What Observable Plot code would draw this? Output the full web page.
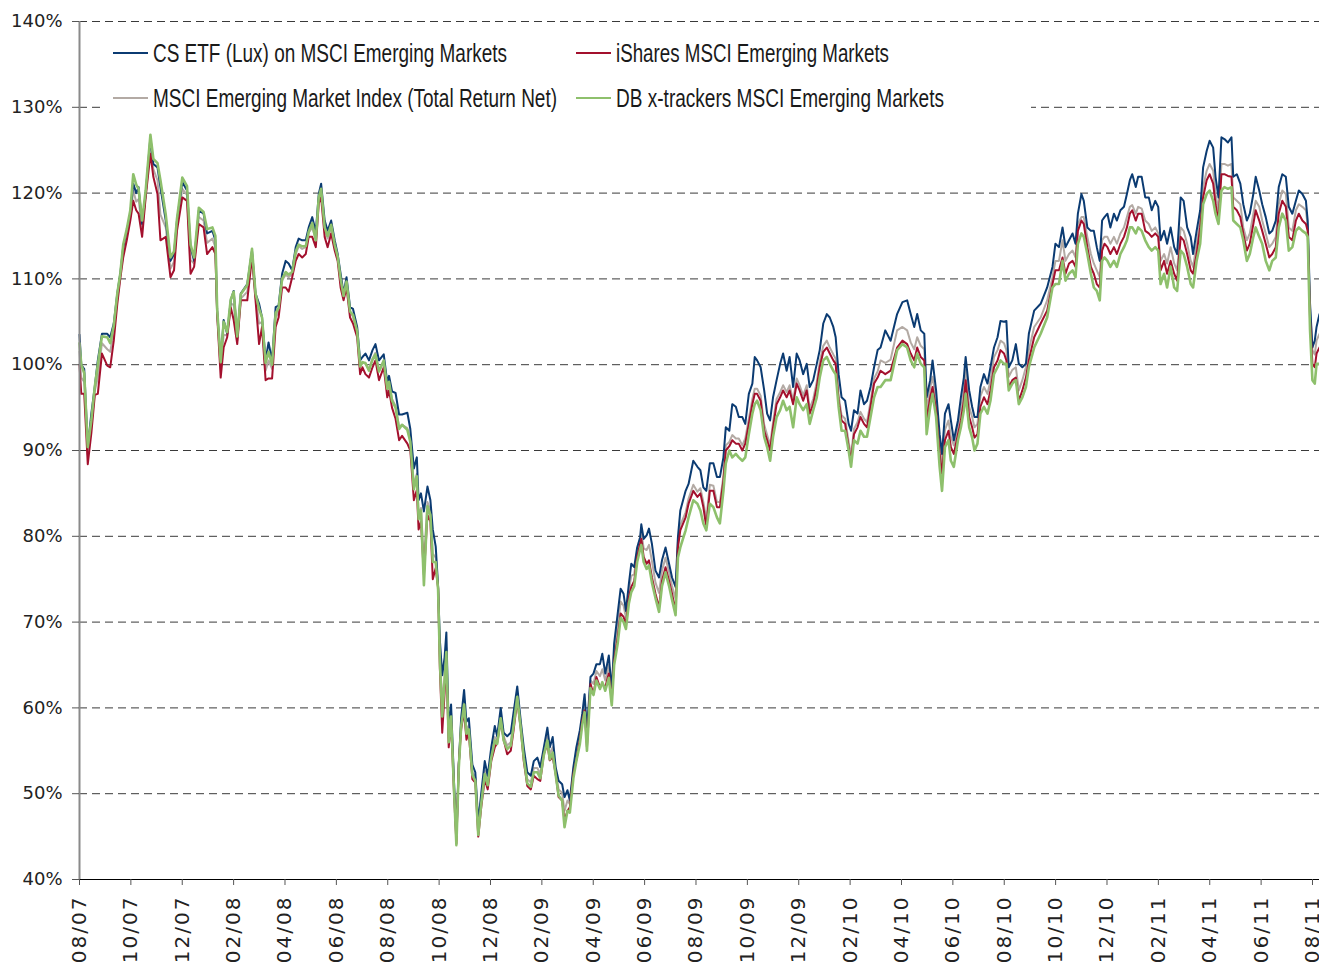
<!DOCTYPE html>
<html><head><meta charset="utf-8">
<script src="https://cdn.jsdelivr.net/npm/d3@7"></script>
<script src="https://cdn.jsdelivr.net/npm/@observablehq/plot@0.6"></script>
<style>
body{margin:0;background:#fff;}
#wrap{position:relative;width:1319px;height:966px;}
#wrap svg{position:absolute;left:0;top:0;}
#legend{position:absolute;left:103px;top:28px;width:928px;height:90px;background:#fff;z-index:2;
  font-family:"Liberation Sans",Arial,sans-serif;font-size:26px;color:#1a1a1a;}
.item{position:absolute;display:flex;align-items:center;height:32px;white-space:nowrap;}
.sw{display:inline-block;width:35px;height:2px;margin-right:5px;flex:none;}
.tx{display:inline-block;transform-origin:0 50%;}
g[aria-label="x-axis tick label"] text{letter-spacing:2px;}
</style></head><body><div id="wrap"><div id="legend"></div></div>
<script>
// x positions: weeks since 1 Aug 2007
const tickLabels = ["08/07","10/07","12/07","02/08","04/08","06/08","08/08","10/08","12/08","02/09","04/09","06/09","08/09","10/09","12/09","02/10","04/10","06/10","08/10","10/10","12/10","02/11","04/11","06/11","08/11"];
const yTicks = [40,50,60,70,80,90,100,110,120,130,140];
const seriesNames = ["CS ETF (Lux) on MSCI Emerging Markets","iShares MSCI Emerging Markets","MSCI Emerging Market Index (Total Return Net)","DB x-trackers MSCI Emerging Markets"];
const seriesColors = ["#0b3b72","#a3102d","#b3aaa4","#8ec06c"];

const weeks = [
0.0,0.3,0.8,1.4,2.0,2.6,3.1,3.8,4.7,5.2,5.8,6.4,6.9,7.4,8.0,8.6,9.1,9.6,10.0,10.6,11.2,12.0,12.5,13.2,13.7,14.6,15.4,16.0,16.5,17.4,18.2,18.8,19.4,20.2,21.0,21.6,22.5,23.0,23.3,23.9,24.4,25.0,25.6,26.1,26.7,
27.3,28.4,29.2,29.8,30.4,30.9,31.5,32.0,32.6,33.2,33.7,34.3,34.9,35.4,36.0,36.6,37.1,37.7,38.3,38.8,39.4,40.0,40.5,40.9,41.5,42.0,42.6,43.2,43.7,44.2,44.7,45.2,45.8,46.3,47.0,47.5,47.9,48.4,49.0,49.6,50.1,50.7,
51.5,52.1,52.4,52.9,53.5,54.1,54.6,55.5,56.0,56.6,57.1,57.4,57.8,58.3,58.9,59.4,59.8,60.3,60.7,61.0,61.4,61.8,62.1,62.5,62.9,63.4,63.8,64.2,64.6,65.1,65.5,65.9,66.5,67.0,67.5,68.0,68.6,69.1,69.7,70.3,70.7,71.3,71.8,72.4,73.0,73.5,74.1,74.7,75.2,75.8,76.4,76.9,77.5,
78.0,78.6,79.2,79.6,80.1,80.6,81.1,81.7,82.1,82.6,83.0,83.6,84.1,84.7,85.1,85.5,85.9,86.5,87.0,87.5,88.1,88.5,89.0,89.6,90.1,90.5,91.1,91.6,92.1,92.5,93.0,93.4,93.9,94.4,94.9,95.1,95.5,96.0,96.4,96.9,97.5,98.1,98.6,99.2,99.8,100.3,100.9,101.3,
101.7,102.6,103.1,103.9,104.6,105.1,105.6,106.1,106.7,107.3,107.9,108.4,109.0,109.4,110.0,110.5,111.1,111.6,112.2,112.7,113.3,113.9,114.3,114.7,115.3,115.9,116.4,116.9,117.4,118.0,118.6,119.1,119.7,120.2,120.8,121.4,121.9,122.5,123.1,123.6,124.2,124.8,125.3,125.9,126.5,127.0,127.6,128.0,128.5,129.0,129.6,130.2,130.6,131.1,131.7,132.2,132.8,133.3,133.9,134.5,135.1,
135.6,136.4,137.3,138.4,139.3,140.1,140.7,141.3,141.8,142.4,143.0,143.4,144.0,144.4,145.0,145.6,146.0,146.5,147.1,147.5,148.0,148.7,149.2,149.7,150.0,150.6,151.1,151.5,152.0,152.5,153.1,153.7,154.2,154.8,155.4,155.9,156.5,156.9,157.3,157.9,158.5,159.0,159.6,160.2,160.7,161.6,
162.7,163.8,164.7,165.2,165.8,166.4,166.9,167.5,168.1,168.6,169.0,169.6,170.0,170.6,171.2,171.7,172.2,172.7,173.1,173.5,174.0,174.5,175.1,175.6,176.2,176.8,177.3,177.8,178.2,178.8,179.2,179.8,180.4,181.0,181.5,182.1,182.6,183.0,183.6,184.1,184.7,185.3,185.8,186.4,186.9,187.5,188.1,188.5,189.1,189.7,190.2,190.8,191.3,191.9,192.3,192.8,193.3,193.8,194.4,195.0,195.3,195.9,196.5,197.0,197.6,198.1,198.7,199.1,199.7,200.2,200.8,201.4,201.9,202.5,203.0,203.6,204.2,204.7,205.3,205.9,206.4,207.0,207.6,207.9,208.3,208.7,209.1,209.4,209.9
];

const csEtf = [
103.5,100.0,99.5,90.4,94.3,97.5,100.5,103.6,103.6,103.2,104.8,108.3,110.6,113.7,115.6,117.6,121.1,120.0,120.7,116.4,119.9,126.5,123.4,123.0,120.7,116.8,112.1,112.9,116.8,121.3,120.3,113.7,112.1,118.0,117.6,115.3,115.6,114.5,106.3,100.5,105.2,103.6,107.5,108.6,103.2,
108.3,109.4,113.3,108.3,107.1,105.5,100.5,102.6,100.5,106.7,106.9,110.6,112.1,111.8,111.0,113.7,114.7,114.5,114.5,116.0,117.2,115.5,119.9,121.1,116.8,115.6,116.8,114.5,112.9,110.6,108.3,110.2,106.7,106.5,104.4,100.5,100.9,101.3,100.5,101.7,102.4,100.5,
101.2,97.9,98.7,96.9,96.7,94.2,94.2,94.4,92.5,87.9,89.2,84.2,85.0,82.9,85.8,84.2,80.8,78.8,74.2,67.9,63.8,65.9,68.8,57.5,60.4,51.3,45.0,53.4,58.8,62.1,58.4,58.8,53.4,52.5,46.7,50.0,53.8,52.1,55.4,57.9,56.7,60.0,57.1,56.7,57.1,59.6,62.5,58.4,55.4,52.5,52.1,53.8,54.2,
53.1,55.4,57.7,55.4,56.6,53.1,51.5,51.1,49.6,50.4,49.2,53.1,55.4,57.4,59.3,61.6,57.4,63.6,64.0,65.1,65.1,66.3,64.0,66.1,62.0,67.5,71.0,73.9,73.3,71.3,74.5,76.8,76.4,78.7,79.9,81.4,79.7,80.1,80.9,79.1,76.0,75.2,77.2,78.7,76.8,75.2,74.1,79.9,
83.0,85.3,86.1,88.8,88.1,87.7,85.7,85.3,88.5,88.5,86.9,86.9,89.2,92.7,92.3,95.4,95.1,93.9,93.9,93.1,96.6,97.8,100.9,100.5,99.7,97.0,94.3,93.5,96.2,98.2,100.1,101.3,99.3,100.9,97.4,101.3,100.5,98.9,100.1,97.4,98.2,100.1,101.7,104.8,105.9,105.5,104.4,103.2,98.9,96.2,95.8,93.1,92.3,94.7,94.3,97.0,95.4,95.8,97.4,99.7,101.7,
102.0,104.0,102.8,105.9,107.3,107.5,105.9,104.4,105.9,104.0,103.6,96.2,98.2,100.5,97.0,91.9,89.6,94.3,95.4,93.5,91.2,93.5,96.2,98.5,100.9,97.0,95.1,93.9,93.9,97.4,98.9,97.8,99.7,102.0,103.2,105.1,105.0,105.1,99.7,100.5,102.4,100.1,99.7,100.1,103.6,106.3,
107.1,109.0,111.4,114.1,113.7,116.0,113.7,114.5,115.3,114.1,117.6,119.9,119.1,116.0,115.6,115.6,113.7,112.1,116.8,117.2,117.6,116.0,117.6,116.8,118.0,118.4,119.9,121.5,122.2,120.7,121.9,121.9,119.5,119.5,118.0,119.1,118.4,114.5,115.6,114.1,116.0,113.7,112.9,119.5,119.1,116.0,114.9,112.9,115.6,118.0,123.0,124.9,126.1,125.3,121.9,119.5,126.5,126.3,125.9,126.5,121.9,122.2,121.1,118.7,116.8,117.6,119.9,121.9,120.3,118.7,117.2,115.3,115.6,116.8,120.7,122.2,121.9,118.4,117.6,119.1,120.3,119.9,119.1,116.8,107.1,102.0,102.8,104.4,105.9
];

const msciIndex = [
101.5,98.5,98.0,89.5,93.0,97.0,98.5,102.5,101.8,101.5,104.0,107.7,110.3,113.0,115.0,117.2,120.3,119.0,119.3,115.8,119.7,125.7,122.8,121.5,117.5,116.0,111.2,112.0,116.2,120.5,119.8,112.2,111.8,117.2,116.8,114.2,114.7,113.7,106.0,99.5,103.5,103.4,107.1,107.0,102.8,
107.7,108.5,113.0,108.0,104.8,105.0,99.3,100.5,99.5,105.5,106.2,109.8,110.5,110.2,110.6,112.9,113.8,113.5,113.7,115.4,116.0,114.6,119.3,120.3,115.8,114.7,116.0,113.9,112.5,109.8,107.9,109.6,106.1,105.6,103.8,99.7,100.3,100.1,99.5,100.7,101.4,99.3,
100.4,97.0,97.8,96.0,95.2,92.7,93.0,92.6,91.2,86.0,87.3,82.5,83.3,77.0,84.0,83.0,78.0,77.5,74.1,66.2,60.5,63.8,67.0,56.5,59.4,50.6,44.6,53.4,58.1,60.8,57.3,58.0,52.5,51.9,45.8,49.2,52.7,51.3,54.6,56.6,56.3,59.2,56.7,55.6,56.0,58.5,61.7,58.0,54.6,51.7,51.3,53.0,53.0,
52.3,55.0,56.8,54.6,55.4,52.7,50.5,50.1,48.0,49.2,48.8,52.7,54.6,56.8,58.9,60.6,56.4,63.2,62.8,64.3,63.7,64.5,63.2,65.0,61.4,66.5,69.5,72.4,71.9,70.5,73.7,75.4,75.6,78.1,79.5,80.5,78.6,78.4,79.0,77.1,74.6,73.4,76.0,77.5,75.8,74.2,72.7,79.3,
81.3,82.8,84.4,86.0,85.2,85.6,84.0,82.0,86.0,85.9,84.0,84.0,87.0,90.6,91.0,91.8,91.4,91.4,90.6,91.4,93.7,96.0,97.2,97.2,96.4,93.0,91.8,90.6,93.3,96.0,96.8,97.6,96.8,97.6,95.8,98.4,97.6,96.4,97.6,94.9,96.0,98.0,100.3,102.2,102.8,102.0,101.2,100.7,96.4,94.1,93.7,91.0,89.4,92.5,93.3,94.5,93.7,93.3,95.7,98.4,99.2,
100.5,100.2,100.6,104.0,104.4,104.0,102.6,101.8,103.2,102.2,101.8,94.7,97.3,98.6,95.9,90.8,88.5,92.4,93.5,91.6,90.6,92.9,94.7,97.0,99.4,95.1,93.9,92.7,93.1,96.3,97.4,96.6,98.2,100.9,101.7,102.8,102.5,101.7,98.6,99.4,99.7,97.0,98.2,99.7,101.7,104.4,
105.5,107.5,110.2,112.1,112.1,114.5,112.1,112.9,113.3,112.5,116.4,117.2,117.2,114.9,112.9,111.8,111.0,110.2,114.5,114.9,114.9,114.1,114.9,114.1,115.3,116.0,117.2,118.4,118.6,117.6,118.4,118.2,116.8,116.4,115.6,116.0,115.3,112.1,112.9,111.8,113.7,111.8,111.0,116.0,115.6,114.1,112.1,111.4,114.1,116.8,120.7,122.6,123.4,122.6,119.9,118.0,123.4,123.4,123.2,123.4,119.5,119.1,118.7,116.0,114.5,115.3,117.6,119.1,118.4,116.8,115.3,113.7,114.1,114.9,118.7,120.3,119.9,116.0,115.6,118.0,118.7,118.4,118.0,116.2,106.5,101.7,101.2,102.8,103.6
];

const iShares = [
100.0,96.6,96.6,88.4,92.0,96.5,96.6,101.3,99.9,99.7,102.8,107.1,110.0,112.5,114.5,116.8,119.1,118.0,117.6,114.9,119.5,124.6,121.9,119.9,114.5,114.9,110.2,111.0,115.6,119.5,119.1,110.6,111.4,116.4,116.0,112.9,113.7,112.9,105.9,98.5,102.0,103.2,106.7,105.2,102.4,
107.5,107.5,112.5,107.5,102.4,104.4,98.2,98.4,98.4,104.4,105.5,109.0,109.0,108.5,110.2,112.1,112.9,112.5,112.9,114.9,114.9,113.7,118.8,119.5,114.9,113.7,115.3,113.3,112.1,109.0,107.5,109.0,105.5,104.8,103.2,98.9,99.7,98.9,98.5,99.7,100.5,98.2,
99.7,96.2,97.0,95.0,93.7,91.2,91.7,90.8,90.0,84.2,85.4,80.8,81.7,75.5,82.5,81.7,75.0,76.3,74.0,64.6,57.1,61.7,65.4,55.4,58.4,50.0,44.2,53.4,57.5,59.6,56.3,57.1,51.7,51.3,45.0,48.4,51.7,50.5,53.8,55.4,55.9,58.4,56.3,54.6,55.0,57.5,60.9,57.5,53.8,50.9,50.5,52.1,51.7,
51.5,54.6,55.8,53.9,54.3,52.3,49.6,49.2,46.9,48.0,48.4,52.3,53.9,56.2,58.5,59.7,55.4,62.8,61.6,63.6,62.4,62.8,62.4,64.0,60.9,65.5,68.2,71.0,70.6,69.8,72.9,74.1,74.8,77.6,79.1,79.7,77.6,76.8,77.2,75.2,73.3,71.7,74.8,76.4,74.8,73.3,71.3,78.7,
80.7,82.2,83.8,85.3,84.6,85.0,83.4,81.1,85.3,85.3,83.4,83.4,86.5,90.0,90.5,91.2,90.8,90.8,90.0,90.8,93.1,95.4,96.6,96.6,95.8,92.3,91.2,90.0,92.7,95.4,96.2,97.0,96.2,97.0,95.4,97.8,97.0,95.8,97.0,94.3,95.4,97.4,99.7,101.5,102.0,101.3,100.5,100.1,95.8,93.5,93.1,90.4,88.8,91.9,92.7,93.9,93.1,92.7,95.1,97.8,98.5,
99.3,98.9,99.3,102.0,102.8,102.4,101.3,100.5,102.0,100.9,100.5,93.5,96.2,97.4,94.7,89.6,87.3,91.2,92.3,90.4,89.6,91.9,93.5,95.8,98.2,93.9,92.7,91.5,91.9,95.1,96.2,95.4,97.0,99.7,100.5,101.7,101.3,100.5,97.4,98.2,98.5,95.8,97.0,98.5,100.5,103.2,
104.8,106.3,109.4,111.0,111.0,112.5,110.6,111.8,112.1,111.4,115.6,116.8,116.4,113.7,111.4,110.6,109.4,109.0,113.3,114.1,113.7,112.9,113.7,112.9,114.1,114.9,116.0,117.6,118.0,116.8,117.6,117.6,115.6,115.3,114.9,115.3,114.9,111.0,112.1,110.6,112.1,110.6,109.8,114.9,114.5,112.9,111.0,110.6,112.9,116.0,119.5,121.5,122.2,121.1,118.7,116.8,122.2,122.2,122.0,121.9,118.4,118.0,117.2,115.3,113.3,114.1,116.4,118.0,116.8,115.6,114.1,112.5,112.9,113.7,117.6,119.1,118.4,114.9,114.5,116.8,117.6,116.8,116.4,115.6,105.2,100.1,99.7,101.3,102.0
];

const dbX = [
102.5,100.0,99.0,90.4,93.5,97.5,100.0,103.3,103.2,102.5,104.5,108.3,110.6,114.0,115.8,118.0,122.2,121.0,120.5,116.8,120.3,126.8,124.0,123.5,121.5,117.5,112.5,113.2,117.0,121.8,120.8,114.0,112.5,118.3,117.8,115.8,116.0,115.0,106.5,100.3,105.0,103.8,107.6,108.5,103.3,
108.2,109.3,113.5,108.3,106.5,105.5,100.2,101.5,100.0,106.0,106.6,110.0,110.8,110.5,110.8,113.2,114.0,113.8,113.8,115.5,116.5,114.5,119.5,120.5,116.0,115.0,116.3,114.0,112.6,110.0,108.0,109.7,106.2,105.8,103.9,99.8,100.3,100.2,99.3,100.6,101.2,99.2,
100.5,97.2,98.0,95.8,95.0,92.5,93.0,92.4,91.0,85.5,87.0,82.0,83.0,74.3,83.5,82.5,77.0,77.0,73.8,65.5,59.0,63.0,66.5,56.0,59.0,50.3,44.0,53.0,57.8,60.4,57.0,57.5,52.2,51.5,45.2,48.8,52.3,51.0,54.2,56.2,55.8,58.8,56.2,55.2,55.6,58.0,61.3,57.6,54.2,51.2,50.8,52.5,52.5,
51.8,54.5,56.2,54.0,54.8,52.2,49.8,49.2,46.1,48.0,47.8,51.8,53.8,55.8,58.0,59.5,55.0,62.3,61.5,63.2,62.2,63.0,62.0,63.5,60.3,65.0,67.5,70.5,70.0,69.2,72.2,73.5,74.2,77.0,78.5,79.0,77.0,76.2,76.6,74.6,72.8,71.2,74.2,75.8,74.2,72.6,70.8,77.5,
78.7,80.7,82.2,84.2,83.8,83.0,81.5,80.7,83.8,83.4,82.2,81.5,85.3,88.5,90.0,89.2,89.6,89.2,88.8,89.2,91.9,94.3,95.4,95.8,94.7,91.6,90.4,88.8,91.6,93.9,94.7,95.8,94.7,95.1,92.7,96.2,95.4,94.7,95.4,93.1,94.7,96.2,98.5,100.5,100.9,100.1,99.3,98.9,95.1,92.3,92.3,90.0,88.1,91.2,90.8,92.3,91.6,91.6,93.9,96.2,97.4,
97.4,98.2,98.2,101.7,102.4,102.0,100.5,99.7,101.3,100.1,99.7,91.9,95.1,96.6,93.9,88.1,85.3,90.4,91.2,88.8,88.1,91.2,92.7,94.7,96.6,92.7,91.5,90.0,90.8,94.3,95.1,94.3,95.8,98.9,99.7,100.5,100.1,100.1,97.0,97.8,98.2,95.4,96.2,97.4,99.7,102.0,
103.6,105.5,109.0,109.4,109.4,112.1,109.8,110.6,111.0,110.2,114.1,115.3,114.9,112.9,110.6,109.0,108.6,107.5,112.1,112.5,112.1,111.4,112.1,111.4,112.9,113.7,114.5,116.0,116.0,115.3,116.0,115.6,114.5,113.7,113.3,113.7,113.3,109.4,110.6,109.0,111.4,109.0,108.6,113.3,112.9,111.4,109.4,109.0,112.1,114.1,118.7,119.9,120.3,119.1,117.6,116.4,120.3,120.7,120.5,120.7,116.8,116.4,116.0,114.5,112.1,112.9,114.9,116.0,114.9,114.1,112.1,111.0,112.1,112.5,116.0,117.6,116.8,113.3,113.7,115.6,116.0,115.6,115.3,114.9,104.0,98.2,97.8,100.1,100.1
];

// build tidy rows for the line marks
const valueSets = [csEtf, iShares, msciIndex, dbX];
function rowsFor(vals){ return weeks.map((w,i)=>({week:w, value:vals[i]})); }
const weeksPerTwoMonths = 2 * 30.4375 / 7;
const tickWeeks = tickLabels.map((_, i) => i * weeksPerTwoMonths);

const drawOrder = [2, 0, 1, 3]; // gray, navy, red, green on top
const widths = [2, 2, 2, 2.6];
const lineMarks = drawOrder.map(k => Plot.line(rowsFor(valueSets[k]), {x:"week", y:"value", stroke: seriesColors[k], strokeWidth: widths[k]}));

const chart = Plot.plot({
  width: 1319, height: 966,
  marginLeft: 79, marginRight: 0, marginTop: 21, marginBottom: 87,
  x: {domain: [0, 209.9], label: null},
  y: {domain: [40, 140], label: null},
  style: {fontFamily: "DejaVu Sans", fontSize: "18px", color: "#222", background: "#fff", overflow: "visible"},
  marks: [
    Plot.ruleY(yTicks.filter(d => d > 40), {stroke: "#3a3a3a", strokeDasharray: "8,5", strokeWidth: 1}),
    ...lineMarks,
    Plot.ruleY([40], {stroke: "#000", strokeWidth: 1.2}),
    Plot.ruleX([0], {stroke: "#8a8a8a", strokeWidth: 2}),
    Plot.axisY({ticks: yTicks, tickFormat: d => d + "%", tickSize: 7, tickPadding: 10, fontSize: 18, stroke: "#555", label: null}),
    Plot.axisX({ticks: tickWeeks, tickFormat: d => tickLabels[Math.round(d / weeksPerTwoMonths)], tickRotate: -90, tickSize: 6, tickPadding: 10, fontSize: 20, stroke: "#555", label: null})
  ]
});
const wrap = document.getElementById("wrap");
wrap.appendChild(chart);

// legend (HTML, above the chart; its white background masks the gridline)
const legend = document.getElementById("legend");
// [left, top, series index, text width in px]
const legendPos = [[10, 9, 0, 354], [473, 9, 1, 273], [10, 54, 2, 404], [473, 54, 3, 328]];
legendPos.forEach(([l, t, k, tw]) => {
  const it = document.createElement("div");
  it.className = "item";
  it.style.left = l + "px"; it.style.top = t + "px";
  const sw = document.createElement("span");
  sw.className = "sw"; sw.style.background = seriesColors[k];
  const tx = document.createElement("span");
  tx.className = "tx";
  tx.textContent = seriesNames[k];
  it.appendChild(sw); it.appendChild(tx);
  legend.appendChild(it);
  const w = tx.getBoundingClientRect().width;
  tx.style.transform = "scaleX(" + (tw / w) + ")";
});
</script>
</body></html>
